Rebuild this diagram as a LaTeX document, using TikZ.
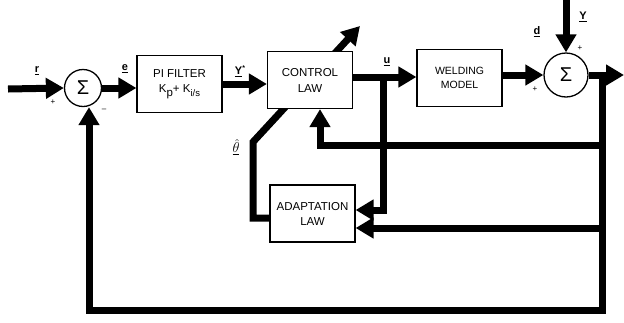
\documentclass[tikz,border=0pt]{standalone}
\usepackage[no-math]{fontspec}
\setmainfont{Liberation Sans}
\usetikzlibrary{arrows.meta,backgrounds}
\begin{document}
\begin{tikzpicture}[x=1pt,y=-1pt,
 line/.style={line width=7pt, line join=miter},
 arr/.style={line, -{Triangle[length=18pt,width=20pt]}},
 blk/.style={draw, line width=1.2pt, fill=white, minimum width=85pt, minimum height=57pt, font=\fontsize{11.5}{13}\selectfont, align=center, inner sep=0pt},
 sumc/.style={draw, circle, line width=1.3pt, fill=white, inner sep=0pt, font=\fontsize{20}{20}\selectfont},
 lbl/.style={font=\bfseries\fontsize{11}{11}\selectfont, inner sep=0pt},
 sgn/.style={font=\fontsize{8}{8}\selectfont, inner sep=0pt}]
\useasboundingbox (0,0) rectangle (624,322);

% nodes
\node[sumc, minimum size=37pt] (s1) at (83,88) {Σ};
\node[blk] (pi) at (179.5,84) {PI FILTER\\[2pt]K\raisebox{-4pt}{p}+ K\raisebox{-4pt}{\fontsize{9.5}{9.5}\selectfont i/s}};
\node[blk] (cl) at (310,80) {CONTROL\\[3pt]LAW};
\node[blk, font=\fontsize{10.5}{12}\selectfont] (wm) at (459.5,78) {WELDING\\[2pt]MODEL};
\node[sumc, minimum size=44pt] (s2) at (566,75) {Σ};
\node[blk] (al) at (312.5,213.5) {ADAPTATION\\[2pt]LAW};

% helper coordinates
\coordinate (in) at (8,89);
\coordinate (ub) at (383,77);
\coordinate (u2) at (383,210);
\coordinate (dtop) at (566,0);
\coordinate (o1) at (602,75);
\coordinate (oend) at (624,75);
\coordinate (br) at (602,310);
\coordinate (bl) at (89,310);
\coordinate (f1) at (602,145);
\coordinate (f2) at (602,228);
\coordinate (x320) at (320,0);
\coordinate (tA) at (253,218);
\coordinate (tB) at (253,142);
\coordinate (tC) at (360,26);

% theta-hat adjustment line (behind the control law block)
\begin{scope}[on background layer]
\draw[arr] ([yshift=-4.5pt]al.west) -- (tA) -- (tB) -- (tC);
\end{scope}

% forward path
\draw[arr] (in) -- (s1.west);
\draw[arr] (s1.east) -- (s1.east -| pi.west);
\draw[arr] (pi.east) -- (pi.east -| cl.west);
\draw[arr] (cl.east |- ub) -- (ub -| wm.west);
\draw[arr] (wm.east |- s2.west) -- (s2.west);
\draw[arr] (dtop) -- (s2.north);
\draw[arr] (s2.east) -- (oend);

% feedback paths
\draw[arr] (o1) -- (br) -- (bl) -- (s1.south -| bl);
\draw[arr] (f1) -| (cl.south -| x320);
\draw[arr] (ub) -- (u2) -- (u2 -| al.east);
\draw[arr] (f2) -- (f2 -| al.east);

% labels
\node[lbl] (lr) at (37,71) {\underline{r}};
\node[lbl] (le) at (125,69) {\underline{e}};
\node[lbl] (ly) at (240,71) {\underline{Y}\raisebox{4pt}{\fontsize{7}{7}\selectfont *}};
\node[lbl] (lu) at (387,62) {\underline{u}};
\node[lbl] (ld) at (537,32) {\underline{d}};
\node[lbl] (lY) at (583,17) {\underline{Y}};
\node[lbl, font=\fontsize{14}{14}\selectfont] (lt) at (236,147) {$\underline{\hat{\theta}}$};

% signs
\node[sgn] (p1) at (53,102) {+};
\node[sgn] (m1) at (104,110) {--};
\node[sgn] (p2) at (580,48) {+};
\node[sgn] (p3) at (535,89) {+};
\end{tikzpicture}
\end{document}
